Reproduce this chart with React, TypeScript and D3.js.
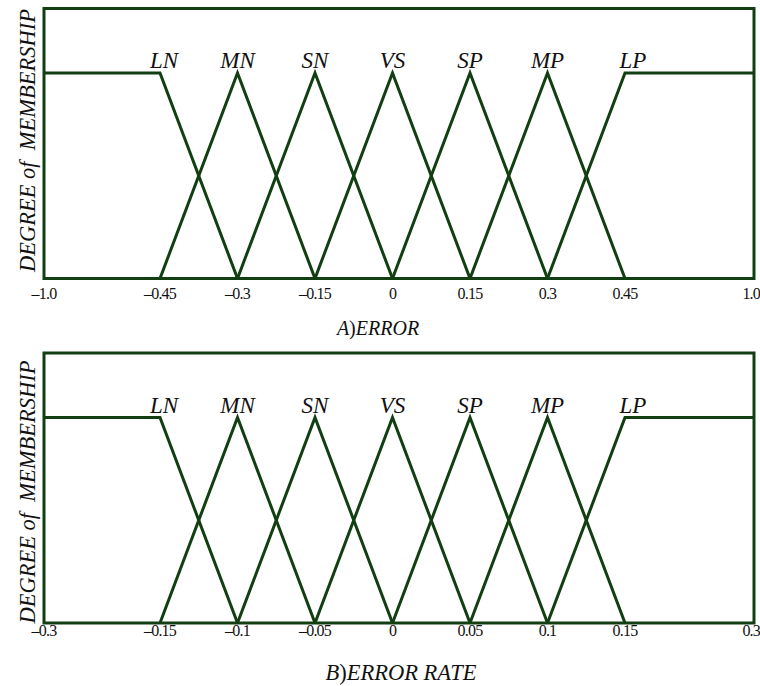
import React from "react";
import * as d3 from "d3";

// Linguistic terms shared by both fuzzy variables
const terms = ["LN", "MN", "SN", "VS", "SP", "MP", "LP"];

// Variable A: error
const errorTicks = [-1.0, -0.45, -0.3, -0.15, 0, 0.15, 0.3, 0.45, 1.0];
const errorTickLabels = ["\u20131.0", "\u20130.45", "\u20130.3", "\u20130.15", "0", "0.15", "0.3", "0.45", "1.0"];
const errorPeaks = [-0.45, -0.3, -0.15, 0, 0.15, 0.3, 0.45];

// Variable B: error rate
const rateTicks = [-0.3, -0.15, -0.1, -0.05, 0, 0.05, 0.1, 0.15, 0.3];
const rateTickLabels = ["\u20130.3", "\u20130.15", "\u20130.1", "\u20130.05", "0", "0.05", "0.1", "0.15", "0.3"];
const ratePeaks = [-0.15, -0.1, -0.05, 0, 0.05, 0.1, 0.15];

const W = 760;
const H = 686;
const COLOR = "#123f12";
const SERIF = "Times New Roman";

type PanelProps = {
  top: number;
  ticks: number[];
  tickLabels: string[];
  peaks: number[];
  tickGap: number;
  titleLetter: string;
  titleText: string;
  titleSize: number;
  titleX: number;
  titleY: number;
  yLabelShift: number;
};

// Membership polyline for term i: shoulders at both ends, triangles inside
function termPoints(i: number, peaks: number[], lo: number, hi: number): [number, number][] {
  const n = peaks.length;
  if (i === 0) return [[lo, 1], [peaks[0], 1], [peaks[1], 0]];
  if (i === n - 1) return [[peaks[n - 2], 0], [peaks[n - 1], 1], [hi, 1]];
  return [[peaks[i - 1], 0], [peaks[i], 1], [peaks[i + 1], 0]];
}

function Panel({ top, ticks, tickLabels, peaks, tickGap, titleLetter, titleText, titleSize, titleX, titleY, yLabelShift }: PanelProps) {
  const left = 44;
  const right = 754;
  const frameH = 270;
  const bottom = top + frameH;
  const lo = ticks[0];
  const hi = ticks[ticks.length - 1];
  const pLo = peaks[0];
  const pHi = peaks[peaks.length - 1];

  // Piecewise scale: outer segments are compressed, inner peaks evenly spaced
  const x = d3.scaleLinear().domain([lo, pLo, pHi, hi]).range([left, 160, 625, right]);
  const y = d3.scaleLinear().domain([0, 1]).range([bottom, top + 64.5]);
  const line = d3.line<[number, number]>().x((d) => x(d[0])).y((d) => y(d[1]));

  const labelDx = (i: number) => (i === 0 ? 4 : i === peaks.length - 1 ? 8 : 0);
  const serif = { fontFamily: SERIF };

  return (
    <g>
      {peaks.map((_, i) => (
        <path key={i} d={line(termPoints(i, peaks, lo, hi)) || ""} fill="none" stroke={COLOR} strokeWidth={3} strokeLinejoin="miter" />
      ))}
      <rect x={left} y={top} width={right - left} height={frameH} fill="none" stroke={COLOR} strokeWidth={3} />
      {terms.map((t, i) => (
        <text key={t} x={x(peaks[i]) + labelDx(i)} y={y(1) - 5} textAnchor="middle" style={serif} fontStyle="italic" fontSize={23} fill="#111">
          {t}
        </text>
      ))}
      {ticks.map((v, i) => {
        const last = i === ticks.length - 1;
        return (
          <text
            key={i}
            x={last ? W : x(v)}
            y={bottom + tickGap}
            textAnchor={last ? "end" : "middle"}
            style={serif}
            fontSize={16}
            letterSpacing={-0.8}
            fill="#111"
          >
            {tickLabels[i]}
          </text>
        );
      })}
      <text
        transform={`translate(35,${top + frameH / 2 + yLabelShift}) rotate(-90)`}
        textAnchor="middle"
        style={serif}
        fontStyle="italic"
        fontSize={22.5}
        fill="#111"
      >
        DEGREE of&#160; MEMBERSHIP
      </text>
      <text x={titleX} y={titleY} textAnchor="middle" style={serif} fontSize={titleSize} fill="#111">
        <tspan fontStyle="italic">{titleLetter}</tspan>
        <tspan>)</tspan>
        <tspan fontStyle="italic">{titleText}</tspan>
      </text>
    </g>
  );
}

export default function App() {
  return (
    <svg width={W} height={H} style={{ position: "absolute", left: 0, top: 0, background: "#fff" }}>
      <rect width={W} height={H} fill="#fff" />
      <Panel
        top={8.5}
        ticks={errorTicks}
        tickLabels={errorTickLabels}
        peaks={errorPeaks}
        tickGap={20}
        titleLetter="A"
        titleText="ERROR"
        titleSize={20}
        titleX={378}
        titleY={335}
        yLabelShift={-3}
      />
      <Panel
        top={353}
        ticks={rateTicks}
        tickLabels={rateTickLabels}
        peaks={ratePeaks}
        tickGap={13}
        titleLetter="B"
        titleText="ERROR RATE"
        titleSize={22.5}
        titleX={401}
        titleY={680}
        yLabelShift={4}
      />
    </svg>
  );
}
